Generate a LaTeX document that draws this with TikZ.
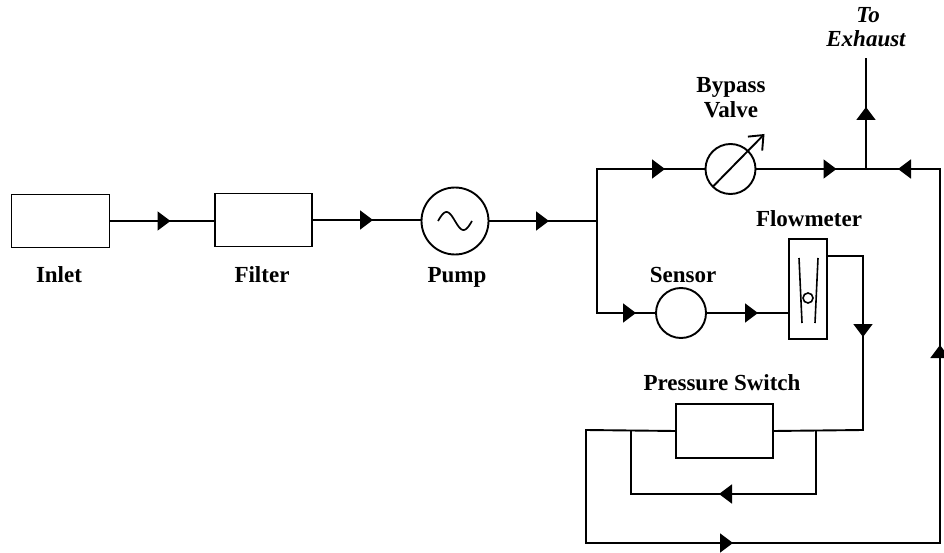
\documentclass[tikz,border=0pt]{standalone}
\usepackage{fontspec}
\setmainfont{Liberation Serif}
\usetikzlibrary{arrows.meta,decorations.markings,calc}

\newcommand\flowtip{\arrow{Triangle[length=13pt,width=19pt]}}

\tikzset{
  pipe/.style={line width=1.9pt, line join=miter},
  comp/.style={draw, line width=1.9pt, inner sep=0pt, outer sep=0pt},
  boxcomp/.style={comp, rectangle, minimum width=#1},
  roundcomp/.style={comp, circle, minimum size=#1},
  lbl/.style={font=\fontsize{23}{25}\selectfont\bfseries, inner sep=0pt, anchor=base},
  lblit/.style={font=\fontsize{23}{25}\selectfont\bfseries\itshape, inner sep=0pt, anchor=base},
  flowat/.style={postaction={decorate}, decoration={markings, mark=at position #1 with {\flowtip}}},
}

\begin{document}
\begin{tikzpicture}[x=1pt,y=-1pt]
\fill[white] (0,0) rectangle (944,553);
\useasboundingbox (0,0) rectangle (944,553);

% components
\node[boxcomp=98pt, minimum height=53pt] (inlet) at (60.5,221) {};
\node[boxcomp=97pt, minimum height=53pt] (filter) at (263.5,220) {};
\node[roundcomp=67pt] (pump) at (455,221) {};
\node[roundcomp=50pt] (valve) at (730.5,169) {};
\node[roundcomp=50pt] (sensor) at (681,313) {};
\node[boxcomp=38pt, minimum height=100pt] (flow) at (808,289) {};
\node[boxcomp=97pt, minimum height=54pt] (ps) at (724.5,431) {};

% junction coordinates
\coordinate (jn) at (597,221);
\coordinate (ex) at (866,169);
\coordinate (exTop) at (866,58);
\coordinate (fcorner) at (863,430);
\coordinate (ileft) at (631,430);
\coordinate (iright) at (816,430);
\coordinate (ibottom) at (631,494);
\coordinate (oleft) at (586,430);
\coordinate (obottom) at (940,543);
\coordinate (otop) at (940,169);

% pump symbol
\draw[line width=1.7pt] plot[domain=0:360, samples=60, smooth] ({438+\x/360*34}, {221-9*sin(\x)});

% bypass valve adjustable arrow
\draw[pipe, -{Straight Barb[length=12pt,width=20pt]}] (valve.225) -- ($(valve.center)+(34,-35)$);

% flowmeter interior
\draw[line width=1.6pt] (799,258) -- (802,323) (818,258) -- (815,323);
\draw[line width=1.6pt] (808,298) circle (5);

% main line
\draw[pipe, flowat=61pt] (inlet.east) -- (inlet.east -| filter.west);
\draw[pipe, flowat=61pt] (filter.east) -- (filter.east -| pump.west);
\draw[pipe, flowat=60.5pt] (pump.east) -- (jn);

% branches
\draw[pipe, flowat=120pt] (jn) |- (valve.west);
\draw[pipe, flowat=131pt] (jn) |- (sensor.west);
\draw[pipe, flowat=52pt] (sensor.east) -- (sensor.east -| flow.west);
\draw[pipe, flowat=81pt] (valve.east) -- (ex);
\draw[pipe, flowat=62pt] (ex) -- (exTop);

% flowmeter outlet to pressure switch
\draw[pipe, flowat=117pt] ([yshift=-17pt]flow.north east) -| (fcorner) -- (ps.east);

% inner bypass loop
\draw[pipe, flowat=161pt] (iright) |- (ibottom) -- (ileft);

% outer return loop
\draw[pipe, postaction={decorate}, decoration={markings,
    mark=at position 350pt with {\flowtip},
    mark=at position 755pt with {\flowtip},
    mark=at position 973pt with {\flowtip}}]
  (ps.west) -- (oleft) |- (obottom) -- (otop) -- (ex);

% labels
\node[lbl] (linlet) at (59,282) {Inlet};
\node[lbl] (lfilter) at (262,282) {Filter};
\node[lbl] (lpump) at (457,282) {Pump};
\node[lbl] (lsensor) at (683,282) {Sensor};
\node[lbl] (lflow) at (809,226) {Flowmeter};
\node[lbl] (lps) at (722,390) {Pressure Switch};
\node[lbl] (lbypassA) at (731,93) {Bypass};
\node[lbl] (lbypassB) at (731,118) {Valve};
\node[lblit] (ltoA) at (868,23) {To};
\node[lblit] (ltoB) at (866,47) {Exhaust};
\end{tikzpicture}
\end{document}
